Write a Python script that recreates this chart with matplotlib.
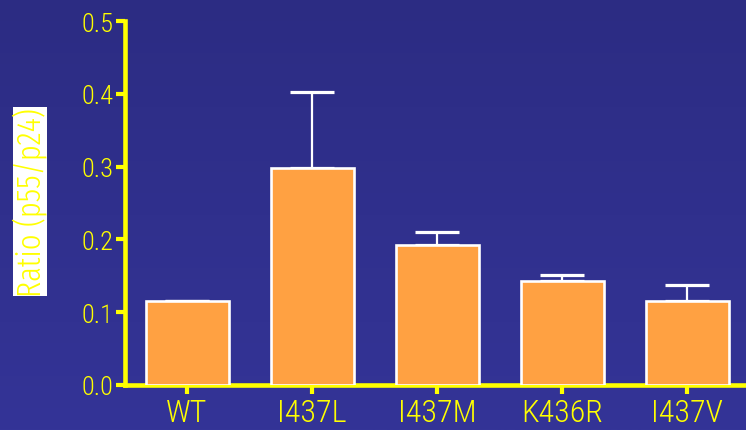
import numpy as np
import matplotlib
matplotlib.use("Agg")
import matplotlib.pyplot as plt
from matplotlib.colors import LinearSegmentedColormap

# Data
categories = ["WT", "I437L", "I437M", "K436R", "I437V"]
ratios = [0.116, 0.298, 0.192, 0.143, 0.115]
errors_upper = [0.0, 0.104, 0.018, 0.008, 0.022]
yticks = [0.0, 0.1, 0.2, 0.3, 0.4, 0.5]
ylabel = "Ratio (p55/p24)"

YELLOW = "#ffff00"
ORANGE = "#ffa142"
FONT = ["Roboto Condensed", "Archivo Narrow", "Liberation Sans", "DejaVu Sans"]
LABEL_FONT = ["Fira Sans Extra Condensed", "Roboto Condensed", "Liberation Sans", "DejaVu Sans"]

fig = plt.figure(figsize=(7.46, 4.31), dpi=100)

# Background: subtle vertical blue gradient
bg = fig.add_axes([0, 0, 1, 1], zorder=-10)
cmap = LinearSegmentedColormap.from_list("bgblue", ["#343497", "#2c2c83"])
grad = np.linspace(0, 1, 256).reshape(-1, 1)
bg.imshow(grad, aspect="auto", cmap=cmap, origin="lower", extent=[0, 1, 0, 1])
bg.set_axis_off()

ax = fig.add_axes([125 / 746, 1 - 386 / 431, 1 - 125 / 746, (386 - 22) / 431])
ax.patch.set_alpha(0)

x = np.arange(len(categories))
ax.errorbar(x, ratios, yerr=[np.zeros(len(ratios)), errors_upper], fmt="none",
            ecolor="white", elinewidth=1.6, capsize=15.5, capthick=2.3, zorder=2)
ax.bar(x, ratios, width=0.664, color=ORANGE, edgecolor="white", linewidth=1.9, zorder=3)

ax.set_xlim(-0.496, 4.472)
ax.set_ylim(0, 0.5)
ax.set_yticks(yticks)
ax.set_yticklabels([f"{v:.1f}" for v in yticks], family=FONT, fontsize=19,
                   weight=300, color=YELLOW)
ax.set_xticks(x)
ax.set_xticklabels(categories, family=FONT, fontsize=23, weight=300, color=YELLOW)

for side in ["top", "right"]:
    ax.spines[side].set_visible(False)
for side in ["left", "bottom"]:
    ax.spines[side].set_color(YELLOW)
    ax.spines[side].set_linewidth(3.3)
    ax.spines[side].set_capstyle("projecting")

ax.tick_params(axis="y", direction="out", length=6.5, width=3, color=YELLOW, pad=2)
ax.tick_params(axis="x", direction="out", length=6.5, width=3, color=YELLOW, pad=3)

fig.text(30 / 746, 1 - 202.5 / 431, ylabel, rotation=90, ha="center", va="center",
         family=LABEL_FONT, fontsize=24, weight=300, color=YELLOW,
         bbox=dict(boxstyle="square,pad=0.0", facecolor="white", edgecolor="none"))

fig.savefig("out.png", dpi=100)
